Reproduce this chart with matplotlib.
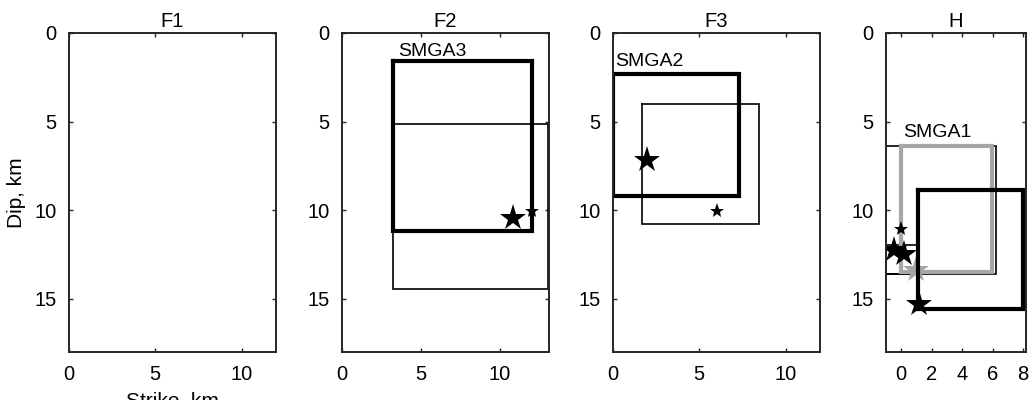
import matplotlib
matplotlib.use("Agg")
import matplotlib.pyplot as plt

plt.rcParams['font.family'] = ['Liberation Sans', 'DejaVu Sans']

titles = ["F1", "F2", "F3", "H"]
xlims = [(0, 12), (0, 13.1), (0, 12), (-1, 8.2)]
xticks = [[0, 5, 10], [0, 5, 10], [0, 5, 10], [0, 2, 4, 6, 8]]
ylim = (0, 18)
yticks = [0, 5, 10, 15]

# rectangles: (x0, x1, y0, y1)
f2_thick = [(3.25, 12.0, 1.6, 11.2)]
f2_thin = [(3.25, 13.05, 5.15, 14.45)]
f2_big_stars_x = [10.8]
f2_big_stars_y = [10.45]
f2_small_stars_x = [12.05]
f2_small_stars_y = [10.03]

f3_thick = [(0.0, 7.3, 2.33, 9.2)]
f3_thin = [(1.7, 8.45, 4.0, 10.75)]
f3_big_stars_x = [1.98]
f3_big_stars_y = [7.18]
f3_small_stars_x = [6.0]
f3_small_stars_y = [10.03]

h_thin = [(-1.0, 6.2, 6.4, 13.6), (-1.0, 1.1, 11.95, 13.6)]
h_gray = [(0.0, 5.95, 6.4, 13.5)]
h_thick = [(1.1, 8.0, 8.85, 15.6)]
h_small_stars_x = [0.0]
h_small_stars_y = [11.05]
h_big_stars_x = [-0.5, 0.15, 1.2]
h_big_stars_y = [12.25, 12.45, 15.3]
h_gray_stars_x = [1.0]
h_gray_stars_y = [13.4]

labels = {1: ("SMGA3", 3.55, 1.05), 2: ("SMGA2", 0.1, 1.6), 3: ("SMGA1", 0.1, 5.6)}

fig = plt.figure(figsize=(10.32, 4.0), dpi=100)
lefts = [69, 342, 613, 886]
widths = [207, 207, 207, 140]
axes = []
for i in range(4):
    ax = fig.add_axes([lefts[i] / 1032, 1 - 352 / 400, widths[i] / 1032, (352 - 33) / 400])
    axes.append(ax)

def rect(ax, r, **kw):
    x0, x1, y0, y1 = r
    ax.plot([x0, x1, x1, x0, x0], [y0, y0, y1, y1, y0], solid_joinstyle='miter', **kw)

thin_kw = dict(color='black', lw=1.2)
thick_kw = dict(color='black', lw=3.0)
gray_kw = dict(color='#a6a6a6', lw=3.0)
big = 20
small = 11

ax = axes[1]
for r in f2_thin: rect(ax, r, **thin_kw)
for r in f2_thick: rect(ax, r, **thick_kw)
ax.plot(f2_big_stars_x, f2_big_stars_y, '*', color='black', ms=big, mew=0)
ax.plot(f2_small_stars_x, f2_small_stars_y, '*', color='black', ms=small, mew=0)

ax = axes[2]
for r in f3_thin: rect(ax, r, **thin_kw)
for r in f3_thick: rect(ax, r, **thick_kw)
ax.plot(f3_big_stars_x, f3_big_stars_y, '*', color='black', ms=big, mew=0)
ax.plot(f3_small_stars_x, f3_small_stars_y, '*', color='black', ms=small, mew=0)

ax = axes[3]
for r in h_thin: rect(ax, r, **thin_kw)
for r in h_gray: rect(ax, r, **gray_kw)
ax.plot(h_gray_stars_x, h_gray_stars_y, '*', color='#a6a6a6', ms=big, mew=0)
for r in h_thick: rect(ax, r, **thick_kw)
ax.plot(h_small_stars_x, h_small_stars_y, '*', color='black', ms=small, mew=0)
ax.plot(h_big_stars_x, h_big_stars_y, '*', color='black', ms=big, mew=0)

for i, ax in enumerate(axes):
    ax.set_xlim(*xlims[i])
    ax.set_ylim(ylim[1], ylim[0])
    ax.set_xticks(xticks[i])
    ax.set_yticks(yticks)
    ax.tick_params(direction='in', top=True, right=True, length=3, width=1.0,
                   labelsize=14.5, colors='#262626', labelcolor='black', pad=9)
    for s in ax.spines.values():
        s.set_linewidth(1.4)
        s.set_color('#262626')
    ax.set_title(titles[i], fontsize=14.5, pad=4)
    if i in labels:
        t, lx, ly = labels[i]
        ax.text(lx, ly, t, fontsize=14, ha='left', va='center')

axes[0].set_ylabel("Dip, km", fontsize=15, labelpad=6)
axes[0].set_xlabel("Strike, km", fontsize=15, labelpad=6)

fig.savefig("out.png", dpi=100)
